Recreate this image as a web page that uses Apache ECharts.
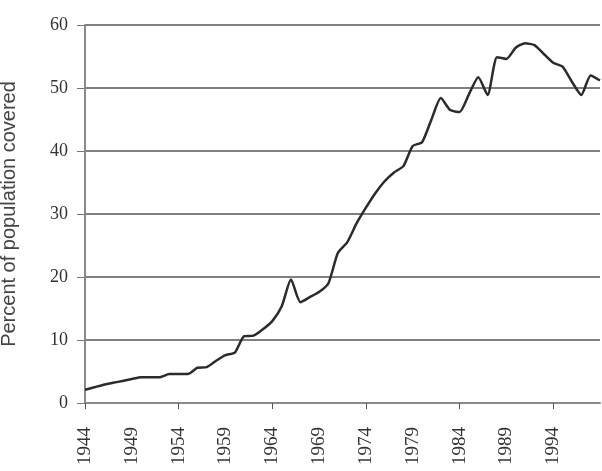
<!DOCTYPE html>
<html>
<head>
<meta charset="utf-8">
<script src="https://cdn.jsdelivr.net/npm/echarts@6/dist/echarts.min.js"></script>
<style>
  html, body { margin: 0; padding: 0; background: #fff; }
  #chart { width: 602px; height: 471px; }
</style>
</head>
<body>
<div id="chart"></div>
<script>
const years = [];
for (let y = 1944; y <= 1999; y++) years.push(String(y));

// percent of population covered
const covered = [
    2.1, 2.5, 2.9, 3.2, 3.5, 3.8, 4.1, 4.1, 4.1, 4.6,
    4.6, 4.6, 5.6, 5.7, 6.7, 7.6, 8.0, 10.6, 10.7, 11.7,
    13.0, 15.3, 19.6, 16.0, 16.8, 17.6, 19.0, 23.8, 25.5, 28.5,
    31.0, 33.3, 35.2, 36.6, 37.6, 40.8, 41.4, 45.0, 48.4, 46.5,
    46.2, 49.0, 51.7, 48.9, 54.9, 54.6, 56.4, 57.1, 56.8, 55.4,
    54.0, 53.4, 51.0, 48.9, 52.0, 51.2
];

const yTitle = 'Percent of population covered';

const chart = echarts.init(document.getElementById('chart'));
chart.setOption({
    animation: false,
    grid: { left: 85, right: 2, top: 25, bottom: 68, outerBoundsMode: 'none' },
    xAxis: {
        type: 'category',
        data: years,
        boundaryGap: false,
        axisLine: { lineStyle: { color: '#8a8a8a', width: 2 } },
        axisTick: { interval: 9, length: 6, lineStyle: { color: '#555', width: 1 } },
        axisLabel: {
            // every fifth year, last year left unlabelled
            interval: (i) => i % 5 === 0 && i < years.length - 1,
            rotate: 90,
            margin: 24,
            color: '#333',
            fontFamily: 'Liberation Serif',
            fontSize: 19
        },
        splitLine: { show: false }
    },
    yAxis: {
        type: 'value',
        min: 0,
        max: 60,
        interval: 10,
        name: yTitle,
        nameLocation: 'middle',
        nameGap: 66,
        nameTextStyle: { fontFamily: 'Liberation Sans', fontSize: 20, color: '#444' },
        axisLine: { show: true, lineStyle: { color: '#8a8a8a', width: 2 } },
        axisTick: { show: true, length: 8, lineStyle: { color: '#777', width: 1 } },
        axisLabel: {
            margin: 17,
            color: '#333',
            fontFamily: 'Liberation Serif',
            fontSize: 18
        },
        splitLine: { lineStyle: { color: '#808080', width: 2 } }
    },
    series: [{
        type: 'line',
        data: covered,
        showSymbol: false,
        smooth: 0.2,
        lineStyle: { color: '#2b2b2b', width: 2.5 }
    }]
});
</script>
</body>
</html>
